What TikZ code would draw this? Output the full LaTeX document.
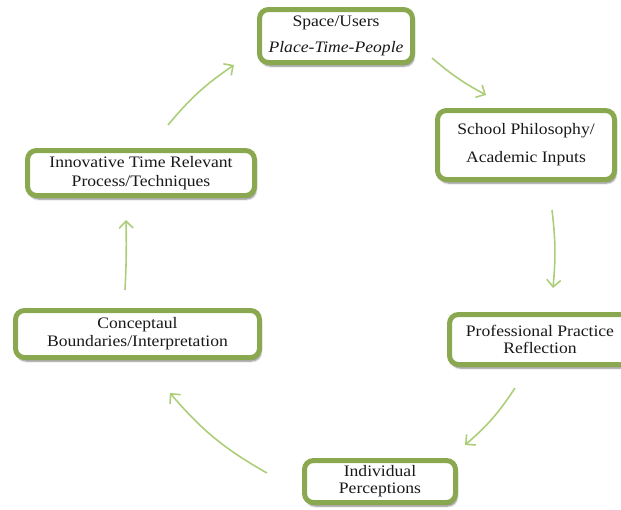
\documentclass[tikz,border=0pt]{standalone}
\usepackage{fontspec}
\setmainfont{Liberation Serif}[FakeStretch=1.1]
\usetikzlibrary{arrows.meta,shadows.blur}
\definecolor{boxgreen}{RGB}{138,168,80}
\definecolor{arrowgreen}{RGB}{172,206,122}
\definecolor{textdark}{RGB}{25,25,25}
\begin{document}
\begin{tikzpicture}[x=1pt,y=-1pt,
  cyclebox/.style={draw=boxgreen, line width=5pt, rounded corners=9pt, fill=white,
    align=center, inner sep=0pt, text=textdark, font=\fontsize{16}{18}\selectfont,
    blur shadow={shadow xshift=1.5pt, shadow yshift=-3.5pt, shadow blur steps=6, shadow opacity=50}},
  cyclearrow/.style={draw=arrowgreen, line width=1.6pt,
    -{Straight Barb[length=7pt,width=14pt,line width=1.6pt]}}]
\useasboundingbox (0,0) rectangle (621,509);
\node[cyclebox, minimum width=153pt, minimum height=53pt, font=\fontsize{16}{26}\selectfont] (space) at (336,36)
  {Space/Users\\\textit{Place-Time-People}};
\node[cyclebox, minimum width=177pt, minimum height=69pt, font=\fontsize{16}{28}\selectfont] (school) at (526,145)
  {School Philosophy/\\Academic Inputs};
\node[cyclebox, minimum width=181pt, minimum height=50pt, font=\fontsize{16}{17.5}\selectfont] (prof) at (540,339.5)
  {Professional Practice\\Reflection};
\node[cyclebox, minimum width=151pt, minimum height=42pt, font=\fontsize{16}{17}\selectfont] (indiv) at (380,481.5)
  {Individual\\Perceptions};
\node[cyclebox, minimum width=244pt, minimum height=47pt] (concept) at (137.5,334)
  {Conceptaul\\Boundaries/Interpretation};
\node[cyclebox, minimum width=227pt, minimum height=45pt, font=\fontsize{16}{19}\selectfont] (innov) at (141,173)
  {Innovative Time Relevant\\Process/Techniques};
\coordinate (a1s) at (432,58); \coordinate (a1e) at (486,95);
\coordinate (a2s) at (552,210); \coordinate (a2e) at (553,288);
\coordinate (a3s) at (515,388); \coordinate (a3e) at (465,445);
\coordinate (a4s) at (267,473); \coordinate (a4e) at (170,393);
\coordinate (a5s) at (125,290); \coordinate (a5e) at (126,220);
\coordinate (a6s) at (168,125); \coordinate (a6e) at (234,65);
\draw[cyclearrow] (a1s) to[bend right=6] (a1e);
\draw[cyclearrow] (a2s) to[bend left=6] (a2e);
\draw[cyclearrow] (a3s) to[bend left=8] (a3e);
\draw[cyclearrow] (a4s) to[bend left=10] (a4e);
\draw[cyclearrow] (a5s) to[bend right=2] (a5e);
\draw[cyclearrow] (a6s) to[bend left=8] (a6e);
\end{tikzpicture}
\end{document}
